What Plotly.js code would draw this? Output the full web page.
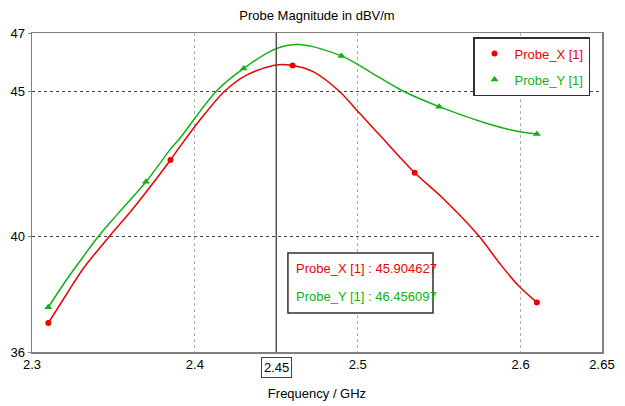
<!DOCTYPE html>
<html>
<head>
<meta charset="utf-8">
<script src="https://cdn.plot.ly/plotly-3.0.1.min.js"></script>
<style>html,body{margin:0;padding:0;background:#fff;}#chart{width:625px;height:406px;}</style>
</head>
<body>
<div id="chart"></div>
<script>
// Curve samples (GHz, dBV/m)
const xCurveX = [2.31, 2.3213, 2.3315, 2.3474, 2.3621, 2.385, 2.3908, 2.4031, 2.4184, 2.4317, 2.45, 2.46, 2.4726, 2.4885, 2.5012, 2.5135, 2.535, 2.5523, 2.5744, 2.5871, 2.5983, 2.61];
const xCurveY = [37.0, 38.0, 38.88, 39.98, 40.95, 42.62, 43.08, 44.0, 45.0, 45.55, 45.90, 45.88, 45.67, 45.0, 44.23, 43.48, 42.18, 41.30, 40.0, 39.06, 38.31, 37.71];
const yCurveX = [2.31, 2.3213, 2.3315, 2.3407, 2.352, 2.37, 2.3847, 2.3908, 2.4133, 2.43, 2.45, 2.4644, 2.49, 2.5135, 2.5278, 2.55, 2.5789, 2.5973, 2.61];
const yCurveY = [37.54, 38.5, 39.29, 39.98, 40.72, 41.87, 42.97, 43.37, 45.0, 45.78, 46.46, 46.60, 46.21, 45.46, 45.0, 44.46, 43.89, 43.62, 43.52];

// Marker samples
const probeXFreq = [2.31, 2.385, 2.46, 2.535, 2.61];
const probeXVal  = [37.0, 42.62, 45.88, 42.18, 37.71];
const probeYFreq = [2.31, 2.37, 2.43, 2.49, 2.55, 2.61];
const probeYVal  = [37.54, 41.87, 45.78, 46.21, 44.46, 43.52];

// Axes
const xTickVals = [2.3, 2.4, 2.45, 2.5, 2.6, 2.65];
const xTickText = ['2.3', '2.4', '', '2.5', '2.6', '2.65'];
const yTickVals = [36, 40, 45, 47];
const yTickText = ['36', '40', '45', '47'];

// Cursor readout
const cursorFreq = 2.45;
const cursorLabel = '2.45';
const cursorXText = 'Probe_X [1] : 45.904627';
const cursorYText = 'Probe_Y [1] : 46.456097';

const RED = '#ee0000';
const GREEN = '#12b012';
const FONT = 'Tahoma, "Liberation Sans", Arial, sans-serif';

const traces = [
  {x: xCurveX, y: xCurveY, mode: 'lines', line: {color: RED, width: 1.5, shape: 'spline', smoothing: 0.9}, showlegend: false, hoverinfo: 'skip'},
  {x: yCurveX, y: yCurveY, mode: 'lines', line: {color: GREEN, width: 1.5, shape: 'spline', smoothing: 0.9}, showlegend: false, hoverinfo: 'skip'},
  {x: probeXFreq, y: probeXVal, mode: 'markers', legendgroup: 'a', name: '<span style="color:' + RED + '">Probe_X [1]</span>', marker: {color: RED, size: 6, symbol: 'circle'}},
  {x: probeYFreq, y: probeYVal, mode: 'markers', legendgroup: 'b', name: '<span style="color:' + GREEN + '">Probe_Y [1]</span>', marker: {color: GREEN, size: 7, symbol: 'triangle-up'}}
];

const layout = {
  width: 625, height: 406,
  margin: {l: 32, r: 23, t: 33, b: 54},
  paper_bgcolor: '#ffffff', plot_bgcolor: '#ffffff',
  font: {family: FONT, size: 12.5, color: '#000'},
  title: {text: 'Probe Magnitude in dBV/m', x: 0.5, xref: 'paper', y: 0.962, yref: 'container', yanchor: 'middle', font: {family: FONT, size: 13, color: '#000'}},
  xaxis: {
    range: [2.3, 2.65], tickmode: 'array', tickvals: xTickVals, ticktext: xTickText,
    showgrid: true, gridcolor: '#b0b0b0', griddash: 'dot', gridwidth: 1,
    showline: true, mirror: true, linecolor: '#808080', linewidth: 1.5,
    ticks: '', zeroline: false, tickfont: {size: 13},
    title: {text: 'Frequency / GHz', font: {size: 13}, standoff: 18}
  },
  yaxis: {
    range: [36, 47], tickmode: 'array', tickvals: yTickVals, ticktext: yTickText,
    showgrid: true, gridcolor: '#404040', griddash: 'dot', gridwidth: 1,
    showline: true, mirror: true, linecolor: '#808080', linewidth: 1.5,
    ticks: 'outside', ticklen: 3, tickcolor: '#808080', zeroline: false, tickfont: {size: 13}
  },
  legend: {
    x: 0.979, xanchor: 'right', y: 0.987, yanchor: 'top',
    bgcolor: '#ffffff', bordercolor: '#303030', borderwidth: 1.5,
    font: {size: 13}, itemwidth: 30, tracegroupgap: 6
  },
  shapes: [
    {type: 'line', xref: 'x', yref: 'paper', x0: cursorFreq, x1: cursorFreq, y0: 0, y1: 1, line: {color: '#505050', width: 1.5}},
    {type: 'rect', xref: 'paper', yref: 'paper', x0: 0.449, x1: 0.7035, y0: 0.122, y1: 0.310, fillcolor: '#ffffff', line: {color: '#303030', width: 1.5}, layer: 'above'}
  ],
  annotations: [
    {xref: 'x', yref: 'paper', x: cursorFreq, y: 0, yanchor: 'top', yshift: -5, text: cursorLabel, showarrow: false, bordercolor: '#404040', borderwidth: 1, borderpad: 2, font: {size: 13}},
    {xref: 'paper', yref: 'paper', x: 0.4596, y: 0.2633, xanchor: 'left', yanchor: 'middle', text: cursorXText, showarrow: false, font: {size: 13, color: RED}},
    {xref: 'paper', yref: 'paper', x: 0.4596, y: 0.1755, xanchor: 'left', yanchor: 'middle', text: cursorYText, showarrow: false, font: {size: 13, color: GREEN}}
  ]
};

Plotly.newPlot('chart', traces, layout, {displayModeBar: false, staticPlot: true});
</script>
</body>
</html>
